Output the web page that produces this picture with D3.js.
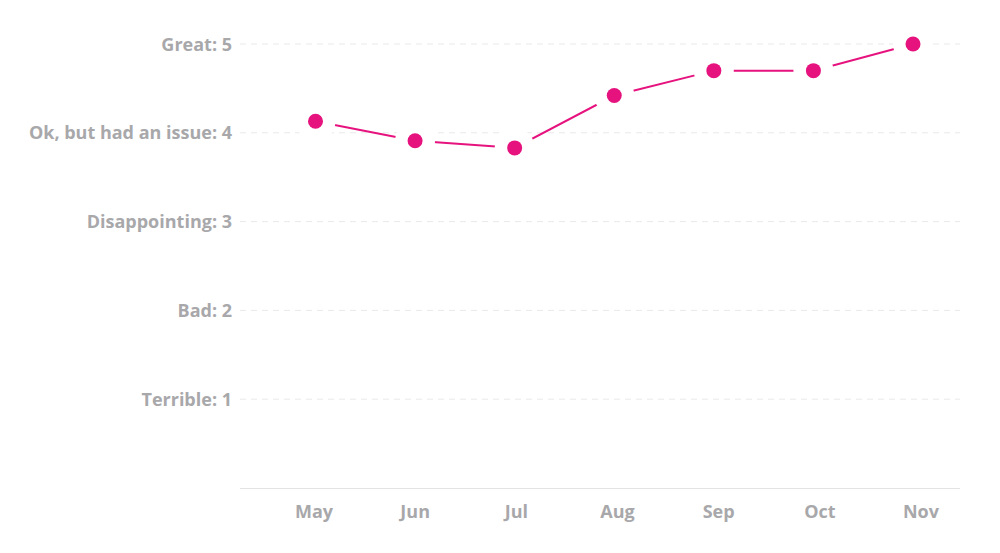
<!DOCTYPE html>
<html>
<head>
<meta charset="utf-8">
<script src="https://cdn.jsdelivr.net/npm/d3@7"></script>
<style>
  body { margin: 0; background: #fff; }
  svg { display: block; }
  text { font-family: "Open Sans", sans-serif; font-weight: 700; fill: #a8a8ab; }
</style>
</head>
<body>
<svg width="1000" height="553"></svg>
<script>
// data
var months = ["May", "Jun", "Jul", "Aug", "Sep", "Oct", "Nov"],
    scores = [4.13, 3.91, 3.83, 4.42, 4.70, 4.70, 5.0],
    levels = [1, 2, 3, 4, 5],
    levelNames = ["Terrible", "Bad", "Disappointing", "Ok, but had an issue", "Great"];

// colors
var colorLine = "#e6127e",
    colorGrid = "#e9e9e9",
    colorAxis = "#e3e3e3";

var svg = d3.select("svg"),
    plotLeft = 240, plotRight = 960, plotTop = 44, plotBottom = 488;

var y = d3.scaleLinear()
    .domain([0, 5])
    .range([plotBottom, plotTop]);

// labels sit a touch wider than the points
var xLabel = d3.scalePoint()
    .domain(months)
    .range([plotLeft + 74, plotLeft + 681]);

var x = d3.scalePoint()
    .domain(months)
    .range([plotLeft + 75.5, plotLeft + 673]);

// grid
svg.append("g")
  .selectAll("line")
  .data(levels)
  .join("line")
    .attr("x1", plotLeft)
    .attr("x2", plotRight)
    .attr("y1", function(d) { return y(d); })
    .attr("y2", function(d) { return y(d); })
    .attr("stroke", colorGrid)
    .attr("stroke-width", 1)
    .attr("stroke-dasharray", "6,5");

// y labels
svg.append("g")
  .selectAll("text")
  .data(levels)
  .join("text")
    .attr("x", plotLeft - 8)
    .attr("y", function(d) { return y(d); })
    .attr("dy", "0.37em")
    .attr("text-anchor", "end")
    .style("font-size", "18px")
    .text(function(d, i) { return levelNames[i] + ": " + d; });

// bottom axis
svg.append("line")
    .attr("x1", plotLeft)
    .attr("x2", plotRight)
    .attr("y1", plotBottom + 0.5)
    .attr("y2", plotBottom + 0.5)
    .attr("stroke", colorAxis);

svg.append("g")
  .selectAll("text")
  .data(months)
  .join("text")
    .attr("x", function(d) { return xLabel(d); })
    .attr("y", plotBottom + 30)
    .attr("text-anchor", "middle")
    .style("font-size", "18px")
    .text(function(d) { return d; });

// line
var line = d3.line()
    .x(function(d, i) { return x(months[i]); })
    .y(function(d) { return y(d); });

svg.append("path")
    .datum(scores)
    .attr("d", line)
    .attr("fill", "none")
    .attr("stroke", colorLine)
    .attr("stroke-width", 2);

// white halo then dots
svg.append("g")
  .selectAll("circle")
  .data(scores)
  .join("circle")
    .attr("cx", function(d, i) { return x(months[i]); })
    .attr("cy", function(d) { return y(d); })
    .attr("r", 20)
    .attr("fill", "#fff");

svg.append("g")
  .selectAll("circle")
  .data(scores)
  .join("circle")
    .attr("cx", function(d, i) { return x(months[i]); })
    .attr("cy", function(d) { return y(d); })
    .attr("r", 7.5)
    .attr("fill", colorLine);
</script>
</body>
</html>
